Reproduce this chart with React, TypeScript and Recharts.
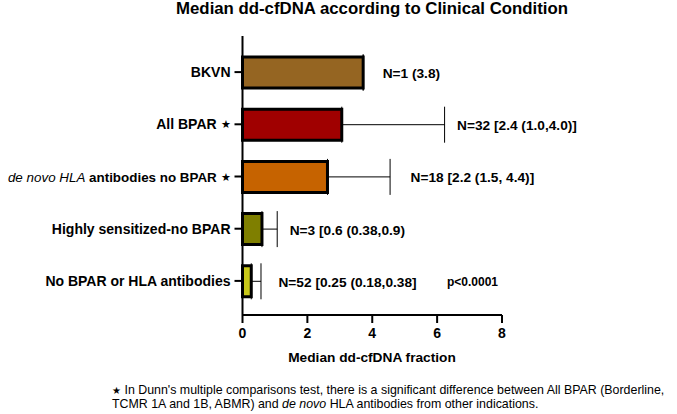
import React from "react";
import { BarChart, Bar, XAxis, YAxis, Cell, ErrorBar, LabelList } from "recharts";

const categories = [
  "BKVN",
  "All BPAR ★",
  "de novo HLA antibodies no BPAR ★",
  "Highly sensitized-no BPAR",
  "No BPAR or HLA antibodies",
];
const medians = [3.72, 3.06, 2.62, 0.6, 0.27];
const upperValues = [3.72, 6.23, 4.55, 1.07, 0.57];
const annotations = [
  "N=1 (3.8)",
  "N=32 [2.4 (1.0,4.0)]",
  "N=18 [2.2 (1.5, 4.4)]",
  "N=3 [0.6 (0.38,0.9)",
  "N=52 [0.25 (0.18,0.38]",
];
const colors = ["#956522", "#A00000", "#C66300", "#7F7F00", "#C8C81A"];
const xTicks = [0, 2, 4, 6, 8];
const labelGaps = [18, 11, 19, 11, 16];

const data = categories.map((c, i) => ({
  name: c,
  value: medians[i],
  err: [0, upperValues[i] - medians[i]],
  upper: upperValues[i],
  note: annotations[i],
}));

const FONT = "'Liberation Sans', Arial, sans-serif";

const renderWithStar = (s: string) => {
  if (!s.endsWith("★")) return <tspan fontWeight="bold">{s}</tspan>;
  return (
    <>
      <tspan fontWeight="bold">{s.slice(0, -1)}</tspan>
      <tspan fontSize={11} fontWeight="normal">★</tspan>
    </>
  );
};

const YTick = (props: any) => {
  const { x, y, payload } = props;
  const v: string = payload.value;
  if (v.startsWith("de novo HLA")) {
    return (
      <text x={x} y={y} textAnchor="end" dominantBaseline="central" fontFamily={FONT} fontSize={13.4} fill="#000">
        <tspan fontStyle="italic" fontWeight="normal">de novo HLA</tspan>
        {renderWithStar(v.replace("de novo HLA", ""))}
      </text>
    );
  }
  return (
    <text x={x} y={y} textAnchor="end" dominantBaseline="central" fontFamily={FONT} fontSize={14} fill="#000">
      {renderWithStar(v)}
    </text>
  );
};

const NoteLabel = (props: any) => {
  const { x, y, width, height, index } = props;
  const d = data[index];
  const pxPerUnit = width / d.value;
  const endPx = x + Math.max(d.upper, d.value) * pxPerUnit + 1.5;
  return (
    <text
      x={endPx + labelGaps[index]}
      y={y + height / 2 + 1}
      dominantBaseline="central"
      fontFamily={FONT}
      fontSize={13.7}
      fontWeight="bold"
      fill="#000"
    >
      {d.note}
    </text>
  );
};

export default function App() {
  return (
    <div style={{ position: "absolute", left: 0, top: 0, width: 677, height: 414, background: "#fff" }}>
      <BarChart
        width={677}
        height={414}
        data={data}
        layout="vertical"
        margin={{ top: 36, right: 175, bottom: 0, left: 0 }}
      >
        <XAxis
          type="number"
          domain={[0, 8]}
          ticks={xTicks}
          height={99}
          tickSize={8}
          tickMargin={5}
          axisLine={{ stroke: "#000", strokeWidth: 2 }}
          tickLine={{ stroke: "#000", strokeWidth: 2 }}
          tick={{ fill: "#000", fontSize: 14, fontWeight: "bold", fontFamily: FONT }}
        />
        <YAxis
          type="category"
          dataKey="name"
          width={242.5}
          padding={{ top: 10, bottom: 8 }}
          tickSize={8}
          tickMargin={4}
          axisLine={{ stroke: "#000", strokeWidth: 2 }}
          tickLine={{ stroke: "#000", strokeWidth: 2 }}
          tick={<YTick />}
          interval={0}
        />
        <Bar dataKey="value" barSize={31} stroke="#000" strokeWidth={3} isAnimationActive={false}>
          {data.map((d, i) => (
            <Cell key={d.name} fill={colors[i]} />
          ))}
          <ErrorBar dataKey="err" direction="x" width={18} stroke="#000" strokeWidth={1} />
          <LabelList dataKey="note" content={<NoteLabel />} />
        </Bar>
      </BarChart>
      <svg
        width={677}
        height={414}
        style={{ position: "absolute", left: 0, top: 0, pointerEvents: "none" }}
      >
        <text x={372} y={14} textAnchor="middle" fontFamily={FONT} fontSize={16.8} fontWeight="bold" fill="#000">
          Median dd-cfDNA according to Clinical Condition
        </text>
        <text x={372} y={362} textAnchor="middle" fontFamily={FONT} fontSize={13.7} fontWeight="bold" fill="#000">
          Median dd-cfDNA fraction
        </text>
        <text x={447} y={286} fontFamily={FONT} fontSize={12} fontWeight="bold" fill="#000">
          p&lt;0.0001
        </text>
        <text x={112} y={394} fontFamily={FONT} fontSize={12.4} fill="#000">
          <tspan fontSize={10}>★</tspan> In Dunn's multiple comparisons test, there is a significant difference between All BPAR (Borderline,
        </text>
        <text x={112} y={408} fontFamily={FONT} fontSize={12.4} fill="#000">
          TCMR 1A and 1B, ABMR) and <tspan fontStyle="italic">de novo</tspan> HLA antibodies from other indications.
        </text>
      </svg>
    </div>
  );
}
